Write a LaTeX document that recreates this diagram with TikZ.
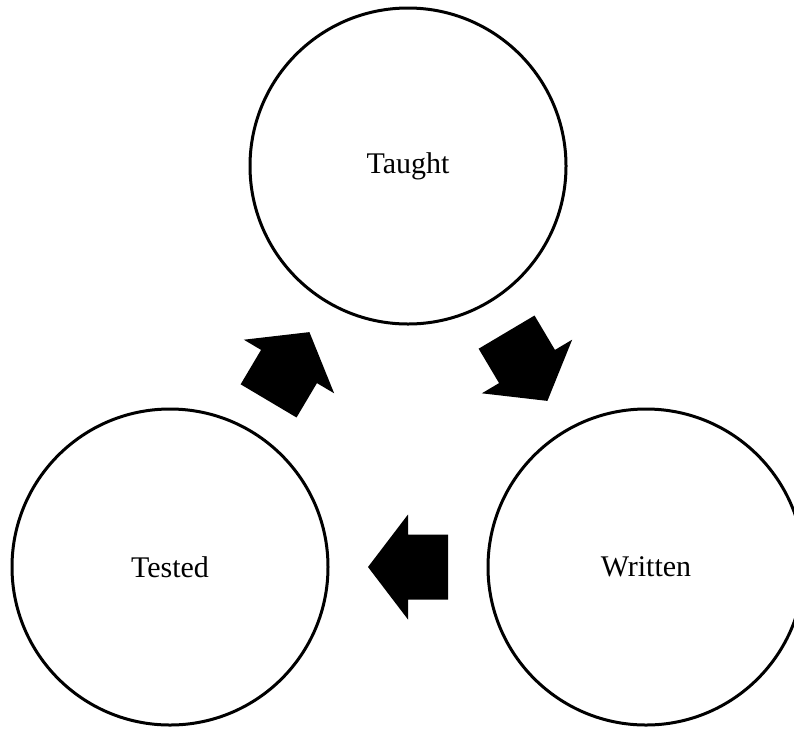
\documentclass[tikz,border=0pt]{standalone}
\usepackage{fontspec}
\setmainfont{Liberation Serif}
\usetikzlibrary{calc}
\begin{document}
\begin{tikzpicture}[x=1pt,y=-1pt,
  stage/.style={circle,draw=black,line width=3pt,minimum size=316pt,inner sep=0pt,
    font=\fontsize{30}{36}\selectfont},
  blockarrow/.pic={\fill[black] (-40,-32.5) -- (0,-32.5) -- (0,-52.5) -- (40,0) -- (0,52.5) -- (0,32.5) -- (-40,32.5) -- cycle;}]
\useasboundingbox (0,0) rectangle (794,729);
\node[stage] (taught) at (408,166) {Taught};
\node[stage] (tested) at (170,567) {Tested};
\node[stage] (written) at (646,567) {Written};
\path ($(tested)!0.5!(taught)$) pic[rotate=59.3] {blockarrow};
\path ($(taught)!0.5!(written)$) pic[rotate=-59.3] {blockarrow};
\path ($(written)!0.5!(tested)$) pic[rotate=180] {blockarrow};
\end{tikzpicture}
\end{document}
